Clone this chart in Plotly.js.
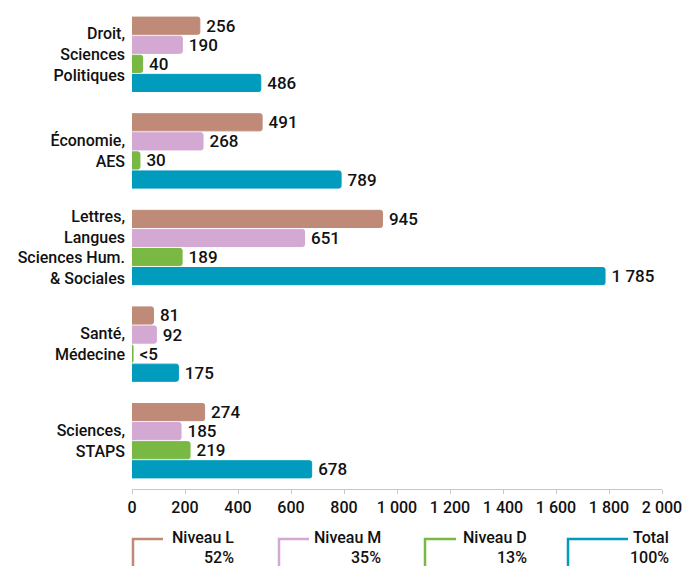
<!DOCTYPE html>
<html>
<head>
<meta charset="utf-8">
<script src="https://cdn.plot.ly/plotly-3.0.1.min.js"></script>
<style>html,body{margin:0;padding:0;background:#fff}#chart{width:683px;height:566px}</style>
</head>
<body>
<div id="chart"></div>
<script>
const categories = [
  "Droit,<br>Sciences<br>Politiques",
  "Économie,<br>AES",
  "Lettres,<br>Langues<br>Sciences Hum.<br>& Sociales",
  "Santé,<br>Médecine",
  "Sciences,<br>STAPS"
];
const seriesNames = ["Niveau L", "Niveau M", "Niveau D", "Total"];
const seriesShares = ["52%", "35%", "13%", "100%"];
const niveauL = [256, 491, 945, 81, 274];
const niveauM = [190, 268, 651, 92, 185];
const niveauD = [40, 30, 189, 4, 219];
const total = [486, 789, 1785, 175, 678];
const labelsD = ["40", "30", "189", "<5", "219"];
const colors = ["#bf8a78", "#d3a8d3", "#78b843", "#009bbd"];
const tickVals = [0, 200, 400, 600, 800, 1000, 1200, 1400, 1600, 1800, 2000];

const values = [niveauL, niveauM, niveauD, total];
const FAM = "Roboto, sans-serif";
const valueFont = {family: FAM, size: 17, color: "#111", weight: 500};

const fmt = v => String(v).replace(/\B(?=(\d{3})+(?!\d))/g, " ");

const traces = values.map((vals, i) => ({
  type: "bar",
  orientation: "h",
  name: seriesNames[i],
  y: categories,
  x: vals,
  text: (i === 2 ? labelsD : vals.map(fmt)).map(t => "\u2009" + t),
  textposition: "outside",
  constraintext: "none",
  cliponaxis: false,
  textfont: valueFont,
  marker: {color: colors[i], line: {color: colors[i], width: 1}},
  hoverinfo: "x+name"
}));

const shapes = [];
const annotations = [];
const itemX = [1, 147, 293, 436];
const lineLen = [30, 30, 31, 60];
const textRight = [104, 251, 397, 539];
const legFont = {family: FAM, size: 16, color: "#111", weight: 500};
seriesNames.forEach((n, i) => {
  shapes.push({
    type: "path", xref: "paper", yref: "paper",
    xsizemode: "pixel", ysizemode: "pixel", xanchor: 0, yanchor: 0,
    path: `M ${itemX[i] + lineLen[i]},-50 L ${itemX[i]},-50 L ${itemX[i]},-90`,
    line: {color: colors[i], width: 2.5}
  });
  annotations.push({
    xref: "paper", yref: "paper",
    x: textRight[i] / 530, y: -48 / 483,
    xanchor: "right", yanchor: "middle", align: "right",
    showarrow: false, text: n, font: legFont
  });
  annotations.push({
    xref: "paper", yref: "paper",
    x: textRight[i] / 530, y: -68 / 483,
    xanchor: "right", yanchor: "middle", align: "right",
    showarrow: false, text: seriesShares[i], font: legFont
  });
});

const layout = {
  width: 683, height: 566,
  margin: {l: 132, r: 21, t: 6, b: 77},
  barmode: "group",
  bargap: 0.21,
  bargroupgap: 0.1,
  barcornerradius: 2,
  showlegend: false,
  separators: ", ",
  paper_bgcolor: "#fff",
  plot_bgcolor: "#fff",
  font: valueFont,
  xaxis: {
    range: [0, 2000],
    tickvals: tickVals,
    tickformat: ",d",
    showgrid: false,
    zeroline: false,
    showline: true,
    linecolor: "#c8c8c8",
    linewidth: 1,
    ticks: "outside",
    ticklen: 4,
    tickcolor: "#c8c8c8",
    tickfont: {family: FAM, size: 16, color: "#111", weight: 500}
  },
  yaxis: {
    autorange: "reversed",
    showgrid: false,
    zeroline: false,
    showline: false,
    ticks: "",
    ticklabelstandoff: 6,
    tickfont: {family: FAM, size: 16, color: "#111", weight: 500}
  },
  shapes: shapes,
  annotations: annotations
};

Plotly.newPlot("chart", traces, layout, {displayModeBar: false, staticPlot: true});
</script>
</body>
</html>
